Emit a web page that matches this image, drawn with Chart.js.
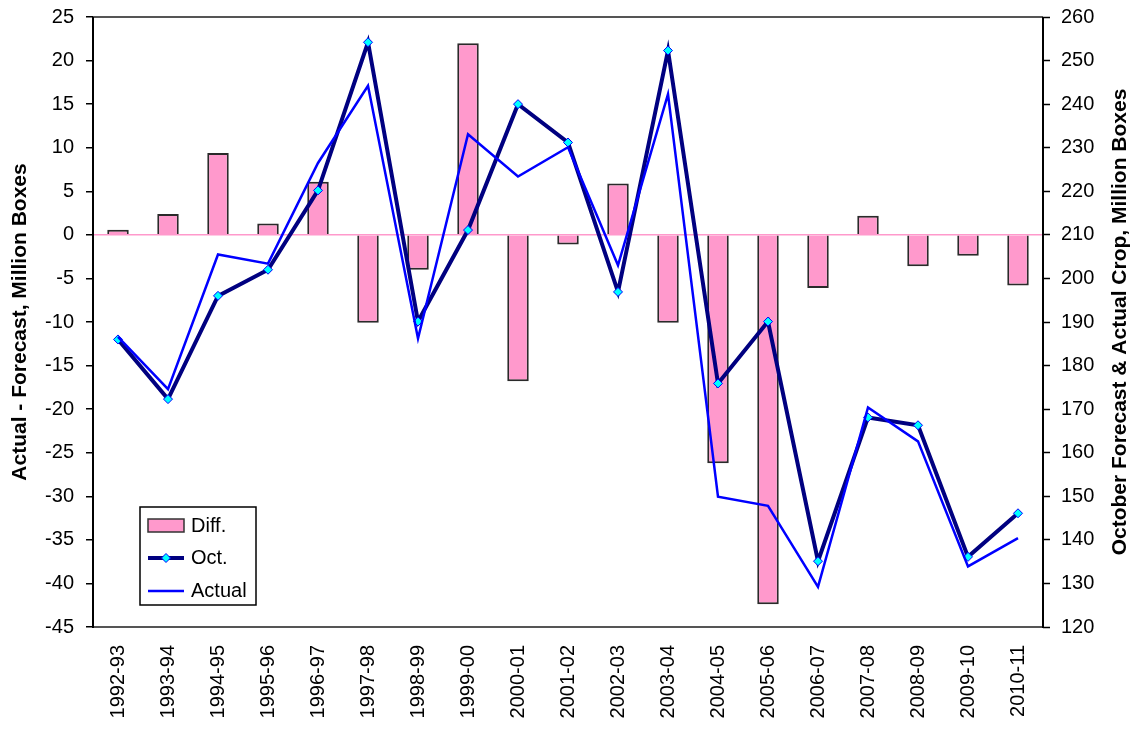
<!DOCTYPE html>
<html>
<head>
<meta charset="utf-8">
<script src="https://cdn.jsdelivr.net/npm/chart.js@4.4.1/dist/chart.umd.min.js"></script>
<style>
    html, body { margin: 0; padding: 0; background: #fff; }
    #wrap { width: 1136px; height: 729px; }
</style>
</head>
<body>
<div id="wrap"><canvas id="cropChart"></canvas></div>
<script>
const FONT = 'Arial, "Liberation Sans", sans-serif';

const seasons = [
    "1992-93", "1993-94", "1994-95", "1995-96", "1996-97", "1997-98", "1998-99",
    "1999-00", "2000-01", "2001-02", "2002-03", "2003-04", "2004-05", "2005-06",
    "2006-07", "2007-08", "2008-09", "2009-10", "2010-11"
];

const diffValues = [
    0.6, 2.4, 9.4, 1.3, 6.1, -10.1, -4.0, 22.0, -16.8, -1.1,
    5.9, -10.1, -26.2, -42.4, -6.1, 2.2, -3.6, -2.4, -5.8
];

const octValues = [
    186.0, 172.3, 196.0, 202.0, 220.2, 254.2, 190.1, 211.1, 240.0, 231.2,
    196.9, 252.3, 175.9, 190.1, 135.1, 168.1, 166.3, 136.1, 146.1
];

const actualValues = [
    186.6, 174.6, 205.5, 203.4, 226.5, 244.2, 186.2, 233.1, 223.4, 230.1,
    203.0, 242.3, 149.9, 147.8, 129.2, 170.4, 162.6, 133.9, 140.4
];

const leftTitle  = "Actual - Forecast, Million Boxes";
const rightTitle = "October Forecast & Actual Crop, Million Boxes";

const PINK  = '#FF99CC';
const NAVY  = '#000080';
const BLUE  = '#0000FF';
const CYAN  = '#00FFFF';


// frame round the plot, the right-hand title and the legend box
const extrasPlugin = {
    id: 'extras',

    afterDatasetsDraw(chart) {

        const ctx = chart.ctx;
        const a = chart.chartArea;

        ctx.save();

        ctx.strokeStyle = '#555';
        ctx.lineWidth = 2;
        ctx.beginPath();
        ctx.moveTo(a.left, a.top);
        ctx.lineTo(a.right, a.top);
        ctx.moveTo(a.left, a.bottom);
        ctx.lineTo(a.right, a.bottom);
        ctx.stroke();

        ctx.strokeStyle = '#000';
        ctx.beginPath();
        ctx.moveTo(a.left, a.top);
        ctx.lineTo(a.left, a.bottom + 1);
        ctx.moveTo(a.right, a.top);
        ctx.lineTo(a.right, a.bottom + 1);
        ctx.stroke();

        // legend
        const bx = a.left + 47;
        const by = a.bottom - 120;
        ctx.fillStyle = '#fff';
        ctx.fillRect(bx, by, 116, 98);
        ctx.strokeStyle = '#000';
        ctx.lineWidth = 1.5;
        ctx.strokeRect(bx, by, 116, 98);

        const sx = bx + 8;
        const tx = bx + 51;
        const rows = [by + 19, by + 51, by + 84];

        ctx.fillStyle = PINK;
        ctx.fillRect(sx, rows[0] - 7, 36, 13);
        ctx.strokeStyle = '#333';
        ctx.lineWidth = 1.5;
        ctx.strokeRect(sx, rows[0] - 7, 36, 13);

        ctx.strokeStyle = NAVY;
        ctx.lineWidth = 4;
        ctx.beginPath();
        ctx.moveTo(sx, rows[1]);
        ctx.lineTo(sx + 36, rows[1]);
        ctx.stroke();

        ctx.fillStyle = CYAN;
        ctx.strokeStyle = BLUE;
        ctx.lineWidth = 1;
        ctx.beginPath();
        ctx.moveTo(sx + 18, rows[1] - 4.5);
        ctx.lineTo(sx + 22.5, rows[1]);
        ctx.lineTo(sx + 18, rows[1] + 4.5);
        ctx.lineTo(sx + 13.5, rows[1]);
        ctx.closePath();
        ctx.fill();
        ctx.stroke();

        ctx.strokeStyle = BLUE;
        ctx.lineWidth = 2.5;
        ctx.beginPath();
        ctx.moveTo(sx, rows[2]);
        ctx.lineTo(sx + 36, rows[2]);
        ctx.stroke();

        ctx.fillStyle = '#000';
        ctx.font = '20px ' + FONT;
        ctx.textBaseline = 'middle';
        ctx.textAlign = 'left';
        ctx.fillText("Diff.", tx, rows[0]);
        ctx.fillText("Oct.", tx, rows[1]);
        ctx.fillText("Actual", tx, rows[2]);

        // right axis title, read bottom to top
        ctx.font = 'bold 21px ' + FONT;
        ctx.textAlign = 'center';
        ctx.translate(1120, (a.top + a.bottom) / 2);
        ctx.rotate(-Math.PI / 2);
        ctx.fillText(rightTitle, 0, 0);

        ctx.restore();
    }
};


function noOverhang(scale) {
    scale.paddingTop = 0;
    scale.paddingBottom = 0;
    scale.paddingLeft = 0;
    scale.paddingRight = 0;
}


new Chart(
    document.getElementById('cropChart'),
    {
        type: 'bar',

        data: {
            labels: seasons,
            datasets: [
                {
                    type: 'line',
                    label: 'Actual',
                    data: actualValues,
                    yAxisID: 'y2',
                    borderColor: BLUE,
                    borderWidth: 2.5,
                    pointRadius: 0,
                    tension: 0,
                    fill: false,
                    order: 1
                },
                {
                    type: 'line',
                    label: 'Oct.',
                    data: octValues,
                    yAxisID: 'y2',
                    borderColor: NAVY,
                    borderWidth: 4,
                    pointStyle: 'rectRot',
                    pointRadius: 4.5,
                    pointBackgroundColor: CYAN,
                    pointBorderColor: BLUE,
                    pointBorderWidth: 1,
                    tension: 0,
                    fill: false,
                    order: 2
                },
                {
                    label: 'Diff.',
                    data: diffValues,
                    yAxisID: 'y',
                    backgroundColor: PINK,
                    borderColor: '#2a2a2a',
                    borderWidth: 2,
                    borderSkipped: 'start',
                    categoryPercentage: 1,
                    barPercentage: 0.43,
                    order: 3
                }
            ]
        },

        options: {
            responsive: true,
            maintainAspectRatio: false,
            animation: false,
            devicePixelRatio: 1,

            layout: {
                padding: { top: 17, left: 0, right: 0, bottom: 0 }
            },

            plugins: {
                legend: { display: false },
                tooltip: { enabled: false }
            },

            scales: {
                x: {
                    offset: true,
                    grid: { display: false, drawTicks: false },
                    border: { display: false },
                    ticks: {
                        color: '#000',
                        font: { family: FONT, size: 20 },
                        minRotation: 90,
                        maxRotation: 90,
                        padding: 18,
                        autoSkip: false
                    },
                    afterFit(scale) {
                        scale.height = 102;
                        noOverhang(scale);
                    }
                },

                y: {
                    position: 'left',
                    min: -45,
                    max: 25,
                    border: { display: false },
                    grid: {
                        drawOnChartArea: true,
                        color: (c) => c.tick && c.tick.value === 0 ? PINK : 'rgba(0,0,0,0)',
                        lineWidth: 1.5,
                        tickColor: '#000',
                        tickWidth: 1.5,
                        tickLength: 7
                    },
                    ticks: {
                        stepSize: 5,
                        color: '#000',
                        font: { family: FONT, size: 20 },
                        padding: 12
                    },
                    title: {
                        display: true,
                        text: leftTitle,
                        color: '#000',
                        font: { family: FONT, size: 21, weight: 'bold' },
                        padding: { top: 8, bottom: 0 }
                    },
                    afterFit(scale) {
                        scale.width = 93;
                        noOverhang(scale);
                    }
                },

                y2: {
                    position: 'right',
                    min: 120,
                    max: 260,
                    border: { display: false },
                    grid: {
                        drawOnChartArea: false,
                        tickColor: '#000',
                        tickWidth: 1.5,
                        tickLength: 7
                    },
                    ticks: {
                        stepSize: 10,
                        color: '#000',
                        font: { family: FONT, size: 20 },
                        padding: 11
                    },
                    afterFit(scale) {
                        scale.width = 93;
                        noOverhang(scale);
                    }
                }
            }
        },

        plugins: [extrasPlugin]
    }
);
</script>
</body>
</html>
